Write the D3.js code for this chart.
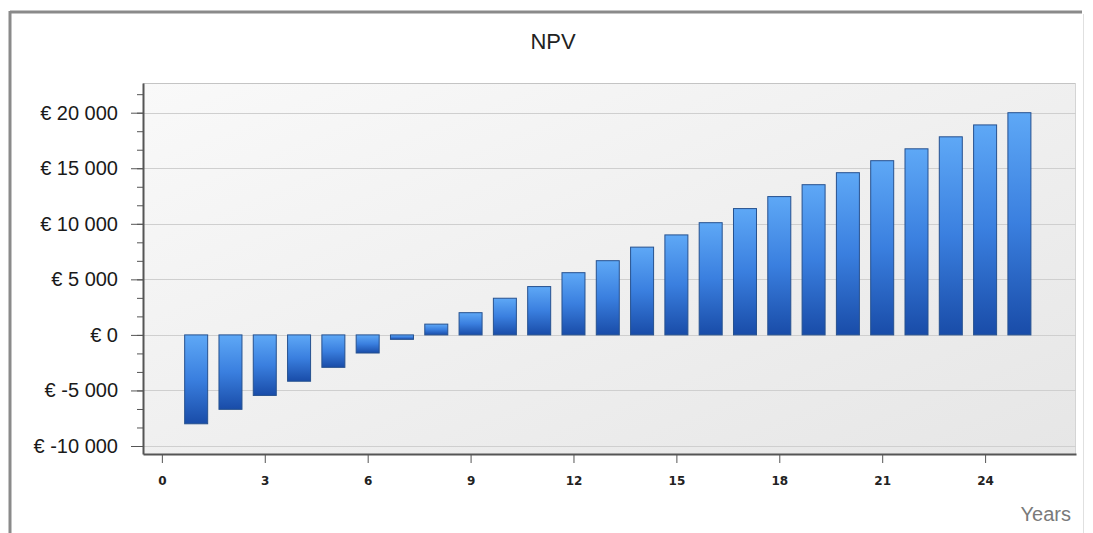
<!DOCTYPE html>
<html>
<head>
<meta charset="utf-8">
<script src="https://cdn.jsdelivr.net/npm/d3@7"></script>
<style>
	body { margin: 0; background: #fff; }
	svg { display: block; }
</style>
</head>
<body>
<svg width="1093" height="533"></svg>
<script>
var years = [1, 2, 3, 4, 5, 6, 7, 8, 9, 10, 11, 12, 13, 14, 15, 16, 17, 18, 19, 20, 21, 22, 23, 24, 25];
var npv = [-8000, -6700, -5450, -4170, -2920, -1630, -400, 970, 2000, 3300, 4350, 5600, 6680, 7900,
	9000, 10100, 11370, 12450, 13520, 14600, 15680, 16750, 17830, 18900, 20000];
var yTicks = [-10000, -5000, 0, 5000, 10000, 15000, 20000];
var xTicks = [0, 3, 6, 9, 12, 15, 18, 21, 24];

var svg = d3.select('svg');

var plotLeft = 143, plotRight = 1076, plotTop = 83, plotBottom = 454;

var xScale = d3.scaleLinear().domain([-0.55, 26.65]).range([plotLeft, plotRight]);
var yScale = d3.scaleLinear().domain([-10720, 22673]).range([plotBottom, plotTop]);

var defs = svg.append('defs');

var bg = defs.append('linearGradient').attr('id', 'bg')
	.attr('x1', 0).attr('y1', 0).attr('x2', 1).attr('y2', 1);
bg.append('stop').attr('offset', '0%').attr('stop-color', '#f9f9f9');
bg.append('stop').attr('offset', '100%').attr('stop-color', '#e6e6e6');

var barGrad = defs.append('linearGradient').attr('id', 'bar')
	.attr('x1', 0).attr('y1', 0).attr('x2', 0).attr('y2', 1);
barGrad.append('stop').attr('offset', '0%').attr('stop-color', '#5ea8f6');
barGrad.append('stop').attr('offset', '50%').attr('stop-color', '#3a7fdf');
barGrad.append('stop').attr('offset', '100%').attr('stop-color', '#194ca8');

// outer frame
svg.append('line').attr('x1', 10).attr('y1', 12).attr('x2', 1082).attr('y2', 12)
	.style('stroke', '#8a8a8a').style('stroke-width', 3);
svg.append('line').attr('x1', 10).attr('y1', 11).attr('x2', 10).attr('y2', 533)
	.style('stroke', '#8a8a8a').style('stroke-width', 3);
svg.append('line').attr('x1', 1083.5).attr('y1', 14).attr('x2', 1083.5).attr('y2', 533)
	.style('stroke', '#e0e0e0').style('stroke-width', 1);

// plot background
svg.append('rect')
	.attr('x', plotLeft).attr('y', plotTop)
	.attr('width', plotRight - plotLeft).attr('height', plotBottom - plotTop)
	.style('fill', 'url(#bg)');
svg.append('line').attr('x1', plotLeft).attr('y1', plotTop + 0.5).attr('x2', plotRight).attr('y2', plotTop + 0.5)
	.style('stroke', '#c4c4c4');
svg.append('line').attr('x1', plotRight - 0.5).attr('y1', plotTop).attr('x2', plotRight - 0.5).attr('y2', plotBottom)
	.style('stroke', '#d4d4d4');

// gridlines
svg.append('g')
	.selectAll('line')
	.data(yTicks)
	.enter()
	.append('line')
	.attr('x1', plotLeft).attr('x2', plotRight)
	.attr('y1', function (d) { return Math.round(yScale(d)) + 0.5; })
	.attr('y2', function (d) { return Math.round(yScale(d)) + 0.5; })
	.style('stroke', '#cfcfcf');

// bars
var barW = 23;
svg.append('g')
	.selectAll('rect')
	.data(npv)
	.enter()
	.append('rect')
	.attr('x', function (d, i) { return xScale(years[i]) - barW / 2; })
	.attr('y', function (d) { return yScale(Math.max(0, d)); })
	.attr('width', barW)
	.attr('height', function (d) { return Math.abs(yScale(d) - yScale(0)); })
	.style('fill', 'url(#bar)')
	.style('stroke', '#26518f')
	.style('stroke-width', 1);

// y axis: minor ticks then majors
var minor = d3.range(-10000, 22000, 5000 / 3).map(function (d) { return Math.round(d); });
svg.append('g')
	.attr('transform', 'translate(' + plotLeft + ',0)')
	.call(d3.axisLeft(yScale).tickValues(minor).tickSize(6).tickSizeOuter(0).tickFormat(''))
	.call(function (g) { g.select('.domain').remove(); });

var yAxis = svg.append('g')
	.attr('transform', 'translate(' + plotLeft + ',0)')
	.call(d3.axisLeft(yScale).tickValues(yTicks).tickSize(12).tickSizeOuter(0).tickPadding(13)
		.tickFormat(function (d) {
			return '€ ' + d3.format(',')(d).replace(/,/g, ' ').replace('−', '-');
		}));
yAxis.selectAll('text')
	.style('font-family', 'Liberation Sans, Arial, sans-serif')
	.style('font-size', '20px')
	.style('fill', '#1a1a1a');

// x axis
var xAxis = svg.append('g')
	.attr('transform', 'translate(0,' + plotBottom + ')')
	.call(d3.axisBottom(xScale).tickValues(xTicks).tickSize(9).tickSizeOuter(0).tickPadding(13));
xAxis.selectAll('text')
	.style('font-family', 'DejaVu Sans, sans-serif')
	.style('font-size', '12px')
	.style('font-weight', 'bold')
	.style('fill', '#222');

svg.selectAll('.tick line').style('stroke', '#555');
svg.selectAll('.domain').style('stroke', '#555').style('stroke-width', 2);

// title and axis name
svg.append('text')
	.attr('x', 553).attr('y', 49)
	.style('text-anchor', 'middle')
	.style('font-family', 'Liberation Sans, Arial, sans-serif')
	.style('font-size', '22px')
	.style('fill', '#222')
	.text('NPV');

svg.append('text')
	.attr('x', 1071).attr('y', 521)
	.style('text-anchor', 'end')
	.style('font-family', 'Liberation Sans, Arial, sans-serif')
	.style('font-size', '20px')
	.style('fill', '#7a7a7a')
	.text('Years');
</script>
</body>
</html>
